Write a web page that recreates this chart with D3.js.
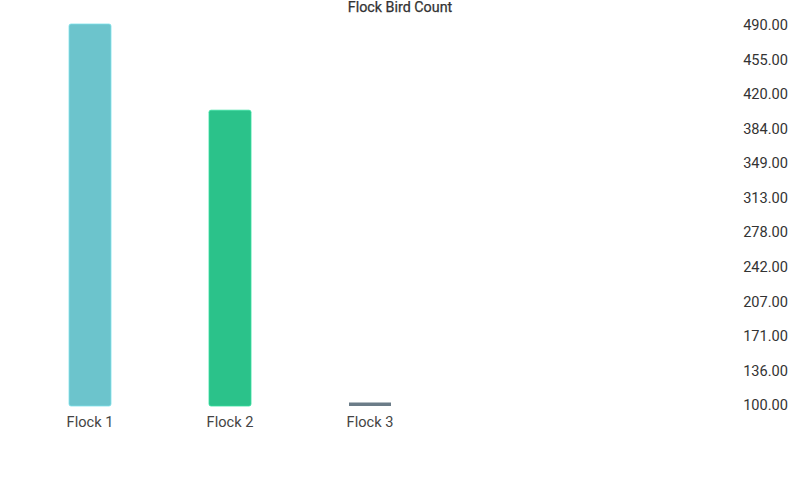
<!DOCTYPE html>
<html><head><meta charset="utf-8">
<script src="https://cdn.jsdelivr.net/npm/d3@7/dist/d3.min.js"></script>
<style>body{margin:0;background:#fff;}svg{display:block;font-family:Roboto,"Noto Sans",sans-serif;}</style>
</head><body>
<svg id="c" width="800" height="500"></svg>
<script>
const title = "Flock Bird Count";
const categories = ["Flock 1", "Flock 2", "Flock 3"];
const values = [490, 402, 100];
const colors = ["#6cc4cc", "#2bc28a", "#6b7c88"];
const tickLabels = ["100.00","136.00","171.00","207.00","242.00","278.00","313.00","349.00","384.00","420.00","455.00","490.00"];
const yMin = 100, yMax = 490;

const svg = d3.select("#c");
const x = d3.scaleBand().domain(categories).range([20, 440]).padding(0);
const y = d3.scaleLinear().domain([yMin, yMax]).range([406, 24]);
const barW = x.bandwidth() * 0.3;

svg.append("text").attr("x", 400).attr("y", 12).attr("text-anchor", "middle")
  .attr("font-size", 14.3).attr("font-weight", 400).attr("fill", "#333").attr("stroke", "#333").attr("stroke-width", 0.25).text(title);

// bars
svg.append("g").selectAll("rect").data(categories).join("rect")
  .attr("x", d => x(d) + x.bandwidth()/2 - barW/2)
  .attr("width", barW)
  .attr("y", (d,i) => Math.min(y(values[i]), y(yMin) - 3.5))
  .attr("height", (d,i) => Math.max(y(yMin) - y(values[i]), 3.5))
  .attr("rx", (d,i) => values[i] > yMin ? 2 : 0)
  .attr("fill", (d,i) => colors[i])
  .attr("stroke", (d,i) => values[i] > yMin ? d3.color(colors[i]).brighter(0.4) : "none")
  .attr("stroke-width", 0.8);

// x axis labels
const xAxis = d3.axisBottom(x).tickSize(0).tickPadding(0);
const gx = svg.append("g").attr("transform", "translate(0,413)").call(xAxis);
gx.select(".domain").remove();
gx.selectAll("text").attr("font-size", 14.6).attr("fill", "#444").attr("font-family", "Roboto").attr("dy", "0.95em");

// y axis on right
const yPos = d3.scaleLinear().domain([yMin, yMax]).range([405, 25]);
const yAxis = d3.axisRight(yPos).tickValues(tickLabels.map((t,i) => yMin + i*(yMax-yMin)/(tickLabels.length-1)))
  .tickFormat((d,i) => tickLabels[i]).tickSize(0).tickPadding(0);
const gy = svg.append("g").attr("transform", "translate(788,0)").call(yAxis);
gy.select(".domain").remove();
gy.selectAll("text").attr("text-anchor", "end").attr("font-size", 14.6).attr("fill", "#333").attr("font-family", "Roboto");
</script>
</body></html>
